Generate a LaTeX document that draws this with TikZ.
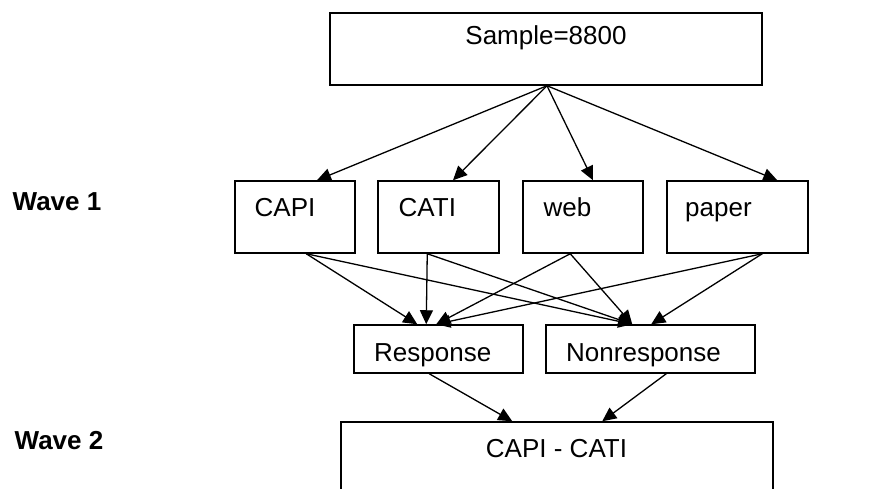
\documentclass[tikz,border=0pt]{standalone}
\usepackage{fontspec}
\setmainfont{Liberation Sans}
\usetikzlibrary{arrows.meta,calc}
\tikzset{
  boxnode/.style={draw=black,line width=1.5pt,rectangle,inner sep=0pt,fill=white},
  lbl/.style={inner sep=0pt,font=\fontsize{26}{30}\selectfont},
  wavelbl/.style={inner sep=0pt,font=\fontsize{26}{30}\selectfont\bfseries},
  conn/.style={draw=black,line width=1.3pt,-{Triangle[length=14pt,width=13pt]}}
}
\begin{document}
\begin{tikzpicture}[x=1pt,y=-1pt]
\useasboundingbox (0,0) rectangle (873,489);
\clip (0,0) rectangle (873,489);
\fill[white] (0,0) rectangle (873,489);
% boxes
\node[boxnode,minimum width=432pt,minimum height=72pt] (sample) at (546,49) {};
\node[boxnode,minimum width=120pt,minimum height=72pt] (capi) at (295,217) {};
\node[boxnode,minimum width=121pt,minimum height=72pt] (cati) at (438.5,217) {};
\node[boxnode,minimum width=120pt,minimum height=72pt] (web) at (583,217) {};
\node[boxnode,minimum width=141pt,minimum height=72pt] (paper) at (737.5,217) {};
\node[boxnode,minimum width=169pt,minimum height=48pt] (resp) at (438.5,349) {};
\node[boxnode,minimum width=209pt,minimum height=48pt] (nonresp) at (650.5,349) {};
\node[boxnode,minimum width=432pt,minimum height=120pt] (wave2box) at (557,482) {};
% texts
\node[lbl,anchor=base] (sampletxt) at (546,45) {Sample=8800};
\node[lbl,anchor=base west] (capitxt) at (254.5,217) {CAPI};
\node[lbl,anchor=base west] (catitxt) at (398.5,217) {CATI};
\node[lbl,anchor=base west] (webtxt) at (543.5,217) {web};
\node[lbl,anchor=base west] (papertxt) at (685,217) {paper};
\node[lbl,anchor=base west] (resptxt) at (374,361) {Response};
\node[lbl,anchor=base west] (nonresptxt) at (566,361) {Nonresponse};
\node[lbl,anchor=base] (wave2txt) at (556.5,457) {CAPI - CATI};
\node[wavelbl,anchor=base west] (wave1lbl) at (12.5,211) {Wave 1};
\node[wavelbl,anchor=base west] (wave2lbl) at (14.5,449.5) {Wave 2};
% connectors from sample
\coordinate (s0) at ($(sample.south)+(1,0)$);
\draw[conn] (s0) -- ($(capi.north)+(22,0)$);
\draw[conn] (s0) -- ($(cati.north)+(14.5,0)$);
\draw[conn] (s0) -- ($(web.north)+(10,0)$);
\draw[conn] (s0) -- ($(paper.north west)+(111,0)$);
% connectors from wave 1 boxes
\coordinate (capib) at ($(capi.south west)+(72,0)$);
\coordinate (catib) at ($(cati.south west)+(50,0)$);
\coordinate (webb) at ($(web.south west)+(48,0)$);
\coordinate (paperb) at ($(paper.south west)+(96,0)$);
\coordinate (r1) at ($(resp.north west)+(64,0)$);
\coordinate (r2) at ($(resp.north west)+(73,0)$);
\coordinate (r3) at ($(resp.north west)+(83,0)$);
\coordinate (n1) at ($(nonresp.north west)+(87,0)$);
\coordinate (n2) at ($(nonresp.north west)+(106,0)$);
\draw[conn] (capib) -- (r1);
\draw[conn] (capib) -- (n1);
\draw[conn] (catib) -- (r2);
\draw[conn] (catib) -- (n1);
\draw[conn] (webb) -- (r3);
\draw[conn] (webb) -- (n1);
\draw[conn] (paperb) -- (r3);
\draw[conn] (paperb) -- (n2);
% to wave 2
\draw[conn] ($(resp.south west)+(76,0)$) -- ($(wave2box.north west)+(172,0)$);
\draw[conn] ($(nonresp.south west)+(121,0)$) -- ($(wave2box.north west)+(262,0)$);
\end{tikzpicture}
\end{document}
